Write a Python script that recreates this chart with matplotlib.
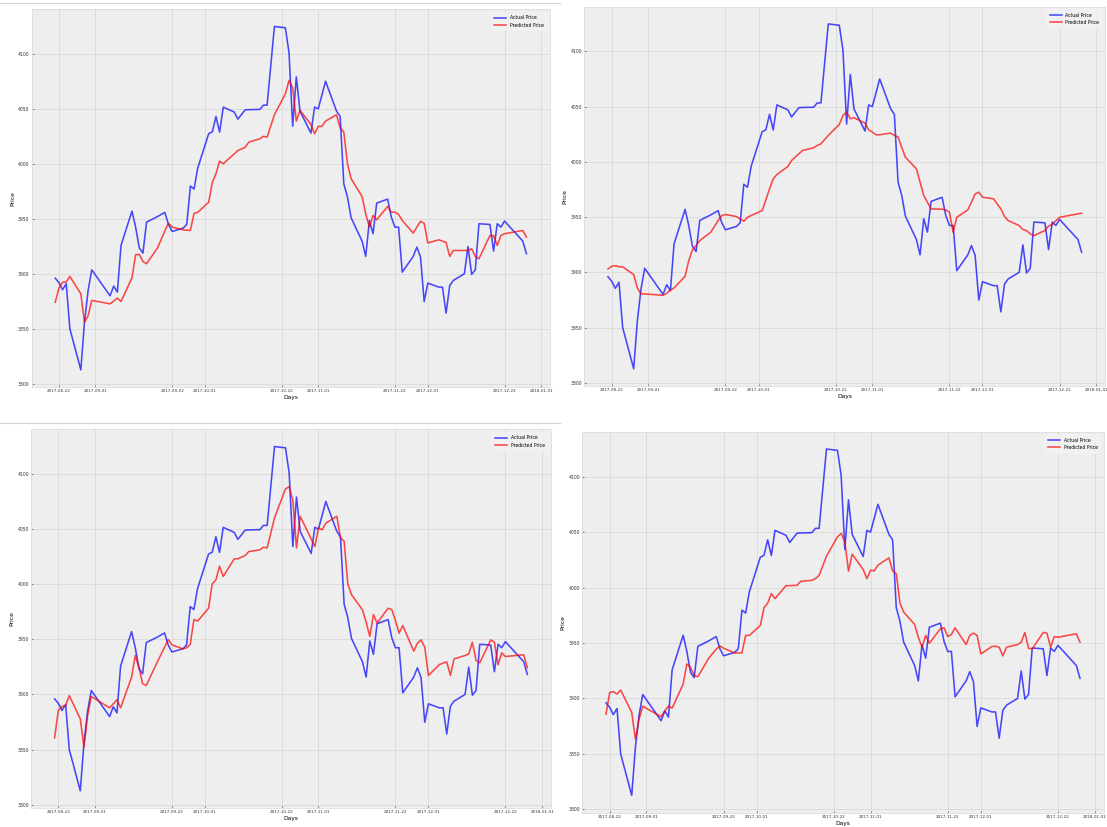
import numpy as np
import pandas as pd
import matplotlib
matplotlib.use('Agg')
import matplotlib.pyplot as plt
import matplotlib.dates as mdates
from matplotlib.lines import Line2D

# trading days in the test window
dates = pd.to_datetime([
    '2017-08-21', '2017-08-22', '2017-08-23', '2017-08-24', '2017-08-25',
    '2017-08-28', '2017-08-29', '2017-08-30', '2017-08-31',
    '2017-09-05', '2017-09-06', '2017-09-07', '2017-09-08',
    '2017-09-11', '2017-09-12', '2017-09-13', '2017-09-14', '2017-09-15',
    '2017-09-18', '2017-09-20', '2017-09-21', '2017-09-22',
    '2017-09-25', '2017-09-26', '2017-09-27', '2017-09-28', '2017-09-29',
    '2017-10-02', '2017-10-03', '2017-10-04', '2017-10-05', '2017-10-06',
    '2017-10-09', '2017-10-10', '2017-10-12', '2017-10-13',
    '2017-10-16', '2017-10-17', '2017-10-18', '2017-10-20',
    '2017-10-23', '2017-10-24', '2017-10-25', '2017-10-26', '2017-10-27',
    '2017-10-30', '2017-10-31', '2017-11-01', '2017-11-02', '2017-11-03',
    '2017-11-06', '2017-11-07', '2017-11-08', '2017-11-09', '2017-11-10',
    '2017-11-13', '2017-11-14', '2017-11-15', '2017-11-16', '2017-11-17',
    '2017-11-20', '2017-11-21', '2017-11-22', '2017-11-23', '2017-11-24',
    '2017-11-27', '2017-11-28', '2017-11-29', '2017-11-30', '2017-12-01',
    '2017-12-04', '2017-12-05', '2017-12-06', '2017-12-07', '2017-12-08',
    '2017-12-11', '2017-12-12', '2017-12-13', '2017-12-14', '2017-12-15',
    '2017-12-18', '2017-12-19', '2017-12-20', '2017-12-21', '2017-12-22',
    '2017-12-27', '2017-12-28'])

actual = [
    3896, 3892, 3885.5, 3891, 3850,
    3812.7, 3856, 3885, 3903.6,
    3880, 3888.8, 3883.3, 3925.8,
    3957, 3942.4, 3923.6, 3918.8, 3947,
    3952, 3955.8, 3944.8, 3938.5,
    3941.5, 3944.8, 3979.7, 3977, 3996,
    4027.3, 4029, 4043, 4028.8, 4051.5,
    4047, 4040.6, 4049, 4049.2,
    4049.4, 4053.3, 4053.3, 4124.8,
    4123.6, 4100.9, 4034.2, 4079, 4047.9,
    4027.9, 4051.5, 4050, 4062.4, 4075,
    4047.9, 4043, 3981.8, 3969.7, 3950.9,
    3929.7, 3915.8, 3948.5, 3936.4, 3964.2,
    3967.9, 3951.5, 3942.4, 3942.4, 3901.5,
    3915.8, 3924.2, 3915.2, 3874.8, 3891.5,
    3887.9, 3887.9, 3864.2, 3889.4, 3894,
    3900, 3924.8, 3899.4, 3903.6, 3945.5,
    3944.8, 3920.6, 3945.5, 3942.4, 3947.9,
    3929.7, 3918.2]

pred_1 = [
    3874.2, 3887, 3892.4, 3892.4, 3897.6,
    3881.8, 3856, 3862, 3875.8,
    3872.7, 3875.2, 3877.9, 3874.8,
    3896.4, 3917.3, 3917.6, 3911.2, 3909.1,
    3923.6, 3939, 3946, 3942.4,
    3940, 3939.6, 3939.4, 3955, 3955.8,
    3965, 3983, 3991, 4002.4, 4000,
    4009, 4012, 4015, 4019.7,
    4022.7, 4025, 4024.2, 4044.5,
    4063.6, 4075.8, 4069, 4038.8, 4048.5,
    4035.8, 4027.3, 4034, 4034, 4038.8,
    4044.5, 4032.7, 4028.8, 4000, 3986.4,
    3970.3, 3954.5, 3942.4, 3953, 3949.1,
    3961.2, 3956, 3956, 3954, 3948.5,
    3937, 3942.4, 3947.6, 3946, 3928,
    3930.9, 3929.7, 3928.5, 3915.8, 3921.2,
    3921.2, 3921.2, 3922.7, 3915.8, 3913.6,
    3934.8, 3934.5, 3925.8, 3934.8, 3936.4,
    3939.4, 3933.3]

pred_2 = [
    3903, 3905.4, 3906, 3905, 3905,
    3897.9, 3885.8, 3880.4, 3880.4,
    3879.2, 3881, 3884, 3885.8,
    3896.4, 3910.6, 3920.2, 3924.2, 3928.7,
    3936.3, 3946.8, 3951.4, 3952.3,
    3950.5, 3948.3, 3946.2, 3949.8, 3951.4,
    3955.9, 3965.6, 3975.5, 3984.6, 3988.5,
    3995.8, 4001.2, 4007.3, 4010.3,
    4012.7, 4014.8, 4016.3, 4023.9,
    4033.8, 4042, 4045, 4039, 4039.9,
    4035, 4029, 4026.9, 4024.5, 4024.5,
    4026, 4023.9, 4022.4, 4013.3, 4004.2,
    3993.7, 3981.6, 3969.5, 3963.4, 3957.4,
    3957.1, 3956.5, 3954.4, 3936.3, 3949.8,
    3956.5, 3963.4, 3971, 3972.5, 3968,
    3966.5, 3961.9, 3957.4, 3950.5, 3946.8,
    3942.3, 3938.7, 3937.8, 3934.7, 3933.2,
    3937.8, 3942, 3943.2, 3946.8, 3949.8,
    3952.9, 3953.5]

pred_3 = [
    3860.7, 3885.5, 3889.1, 3890, 3899,
    3877.9, 3852.3, 3881, 3898.2,
    3887.9, 3891.5, 3895.2, 3887.9,
    3915.7, 3935.3, 3924.8, 3909.7, 3908.2,
    3929.3, 3942.9, 3949.8, 3945,
    3941.4, 3942.3, 3945.3, 3968, 3966.5,
    3978.2, 4000.3, 4003.9, 4016.3, 4007,
    4023, 4023, 4026, 4029.6,
    4031.1, 4033.5, 4032.9, 4060.1,
    4086.4, 4088.5, 4075.8, 4032.9, 4061.6,
    4041, 4034.1, 4051, 4049.2, 4055.3,
    4061.6, 4042, 4039, 4000.3, 3990.6,
    3976.7, 3965.6, 3952.6, 3972.5, 3964.7,
    3978.2, 3977, 3967, 3955.6, 3962.5,
    3939.3, 3946.5, 3949.5, 3942.9, 3917.2,
    3927.2, 3928.4, 3929.6, 3917.2, 3932.3,
    3935.3, 3936.9, 3947.4, 3930.8, 3928.7,
    3949.5, 3947.4, 3926.9, 3937.8, 3934.4,
    3936, 3924.2]

pred_4 = [
    3885.9, 3905.5, 3906.1, 3904, 3907.6,
    3887.4, 3863.3, 3881.4, 3893.1,
    3883.5, 3888.9, 3893.1, 3891.3,
    3913, 3931.1, 3928.1, 3920.6, 3919.7,
    3936.5, 3944.4, 3947.4, 3945.3,
    3941.1, 3941.1, 3941.1, 3956.8, 3956.8,
    3965.8, 3981.8, 3986, 3994.5, 3990,
    4001.7, 4001.7, 4002, 4005.6,
    4006.5, 4008, 4011, 4028.2,
    4045.7, 4048.7, 4041.2, 4014.7, 4030,
    4016.2, 4008, 4015.6, 4015, 4020.1,
    4026.7, 4015, 4012.5, 3986, 3977.9,
    3966.7, 3955.2, 3946.2, 3956.8, 3949.8,
    3962.8, 3963.7, 3955.8, 3957.7, 3963.7,
    3948.6, 3956.8, 3958.9, 3956.8, 3940.2,
    3946.8, 3947.1, 3946.2, 3938.4, 3946.2,
    3948.6, 3950.7, 3959.5, 3945.3, 3944.7,
    3959.5, 3958.9, 3946.2, 3955.8, 3955.2,
    3958.3, 3950.7]

predictions = [pred_1, pred_2, pred_3, pred_4]

W, H = 1107, 827
# axes boxes in pixels: left, top, right, bottom
boxes = [
    (31.7, 9.3, 550.0, 387.0),
    (584.3, 6.7, 1105.3, 386.0),
    (31.0, 429.3, 551.0, 808.0),
    (582.3, 431.7, 1103.7, 812.7),
]

plt.style.use('bmh')
plt.rcParams['font.family'] = 'DejaVu Sans'

fig = plt.figure(figsize=(W / 100, H / 100), dpi=100)
fig.patch.set_facecolor('white')

for pred, (l, t, r, b) in zip(predictions, boxes):
    ax = fig.add_axes([l / W, 1 - b / H, (r - l) / W, (b - t) / H])
    ax.set_facecolor('#eeeeee')
    ax.plot(dates, actual, color='blue', alpha=0.7, lw=1.15, label='Actual Price')
    ax.plot(dates, pred, color='red', alpha=0.7, lw=1.15, label='Predicted Price')
    ax.xaxis.set_major_locator(mdates.DayLocator(bymonthday=[1, 22]))
    ax.xaxis.set_major_formatter(mdates.DateFormatter('%Y-%m-%d'))
    ax.grid(True, color='#d9d9d9', linestyle='-', linewidth=0.6)
    for s in ax.spines.values():
        s.set_color('#dddddd')
        s.set_linewidth(0.6)
    ax.tick_params(axis='both', length=1.6, width=0.4,
                   colors='#333333', pad=1.5)
    ax.tick_params(axis='x', labelsize=3.0)
    ax.tick_params(axis='y', labelsize=3.3)
    ax.set_xlabel('Days', fontsize=4.3, labelpad=1.5)
    ax.set_ylabel('Price', fontsize=4.3, labelpad=2)
    leg = ax.legend(loc='upper right', fontsize=3.3, frameon=True,
                    handlelength=2.6, borderpad=0.8)
    leg.get_frame().set_facecolor('#f3f3f3')
    leg.get_frame().set_edgecolor('none')

# thin rules along the top of the left-hand panels
for y in (2.5, 422.5):
    fig.add_artist(Line2D([0, 560 / W], [1 - y / H, 1 - y / H],
                          color='#cfcfcf', lw=0.8))

plt.savefig('out.png', dpi=100, facecolor='white')
plt.close()
